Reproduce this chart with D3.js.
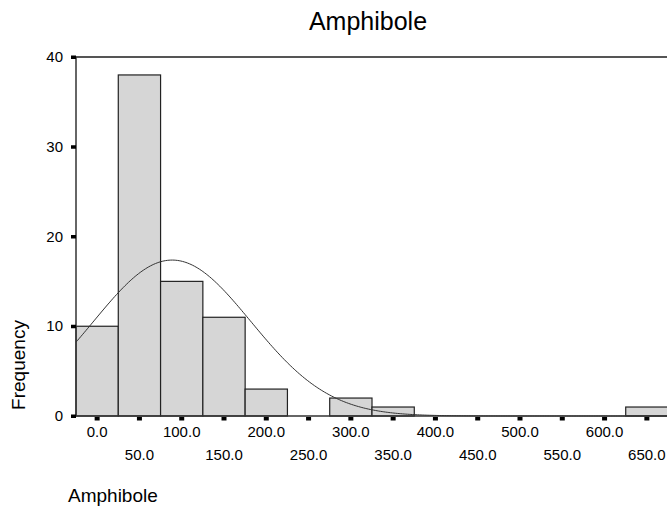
<!DOCTYPE html>
<html>
<head>
<meta charset="utf-8">
<script src="https://cdn.jsdelivr.net/npm/d3@7"></script>
<style>
  body { margin: 0; background: #fff; }
  svg { display: block; }
</style>
</head>
<body>
<script>
// histogram bins (centre of each 50-wide bin) and frequencies
const binCenters = [0, 50, 100, 150, 200, 250, 300, 350, 400, 450, 500, 550, 600, 650];
const counts = [10, 38, 15, 11, 3, 0, 2, 1, 0, 0, 0, 0, 0, 1];
const binWidth = 50;
// normal curve parameters
const mean = 88.7;
const stdDev = 93.0;
// tick values
const xTicks = [0, 50, 100, 150, 200, 250, 300, 350, 400, 450, 500, 550, 600, 650];
const yTicks = [0, 10, 20, 30, 40];

const width = 667, height = 518;
const marginLeft = 76, marginTop = 57, plotRight = 668, plotBottom = 416;
const font = 'Liberation Sans, Arial, sans-serif';

const svg = d3.select('body').append('svg')
    .attr('width', width)
    .attr('height', height);

const x = d3.scaleLinear([-25, 675], [marginLeft, plotRight]);
const y = d3.scaleLinear([0, 40], [plotBottom, marginTop]);

// TITLE
svg.append('text')
    .attr('x', 368)
    .attr('y', 30)
    .attr('text-anchor', 'middle')
    .attr('font-family', font)
    .attr('font-size', 25)
    .text('Amphibole');

// BARS
svg.append('g')
    .selectAll('rect')
    .data(binCenters.map((c, i) => ({ c, n: counts[i] })).filter((d) => d.n > 0))
    .join('rect')
    .attr('x', (d) => x(d.c - binWidth / 2))
    .attr('y', (d) => y(d.n))
    .attr('width', (d) => x(d.c + binWidth / 2) - x(d.c - binWidth / 2))
    .attr('height', (d) => y(0) - y(d.n))
    .attr('fill', '#d6d6d6')
    .attr('stroke', '#222')
    .attr('stroke-width', 1.2);

// NORMAL CURVE
const total = d3.sum(counts);
const normal = (v) =>
    (total * binWidth) / (stdDev * Math.sqrt(2 * Math.PI)) *
    Math.exp(-0.5 * ((v - mean) / stdDev) ** 2);

svg.append('path')
    .datum(d3.range(-25, 676, 2))
    .attr('fill', 'none')
    .attr('stroke', '#333')
    .attr('stroke-width', 1)
    .attr('d', d3.line().x((v) => x(v)).y((v) => y(normal(v))));

// FRAME LINES
svg.append('line')
    .attr('x1', marginLeft).attr('x2', plotRight)
    .attr('y1', marginTop).attr('y2', marginTop)
    .attr('stroke', '#555').attr('stroke-width', 2);
svg.append('line')
    .attr('x1', marginLeft).attr('x2', marginLeft)
    .attr('y1', marginTop).attr('y2', plotBottom)
    .attr('stroke', '#333').attr('stroke-width', 1.5);
svg.append('line')
    .attr('x1', marginLeft).attr('x2', plotRight)
    .attr('y1', plotBottom).attr('y2', plotBottom)
    .attr('stroke', '#333').attr('stroke-width', 1.5);

// Y TICKS
svg.append('g')
    .selectAll('rect')
    .data(yTicks)
    .join('rect')
    .attr('x', marginLeft - 5)
    .attr('y', (d) => y(d) - 1.5)
    .attr('width', 5)
    .attr('height', 3.5)
    .attr('fill', '#000');

svg.append('g')
    .attr('font-family', font)
    .attr('font-size', 15)
    .attr('text-anchor', 'end')
    .selectAll('text')
    .data(yTicks)
    .join('text')
    .attr('x', 63)
    .attr('y', (d) => y(d) + 5)
    .text((d) => d);

// X TICKS
svg.append('g')
    .selectAll('rect')
    .data(xTicks)
    .join('rect')
    .attr('x', (d) => x(d) - 2.5)
    .attr('y', plotBottom + 1)
    .attr('width', 5)
    .attr('height', 3.5)
    .attr('fill', '#000');

svg.append('g')
    .attr('font-family', font)
    .attr('font-size', 15)
    .attr('text-anchor', 'middle')
    .selectAll('text')
    .data(xTicks)
    .join('text')
    .attr('x', (d) => x(d))
    .attr('y', (d, i) => (i % 2 === 0 ? 437 : 460))
    .text((d) => d3.format('.1f')(d));

// AXIS TITLES
svg.append('text')
    .attr('transform', 'translate(25,365) rotate(-90)')
    .attr('text-anchor', 'middle')
    .attr('font-family', font)
    .attr('font-size', 19)
    .text('Frequency');

svg.append('text')
    .attr('x', 68)
    .attr('y', 502)
    .attr('font-family', font)
    .attr('font-size', 19)
    .text('Amphibole');
</script>
</body>
</html>
